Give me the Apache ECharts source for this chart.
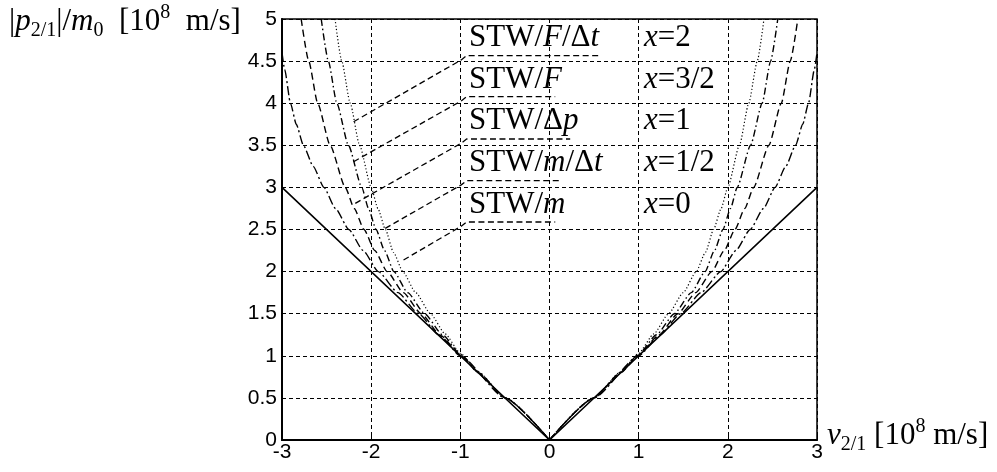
<!DOCTYPE html>
<html><head><meta charset="utf-8">
<script src="https://cdn.jsdelivr.net/npm/echarts@6/dist/echarts.min.js"></script>
<style>html,body{margin:0;padding:0;background:#fff}#c{width:997px;height:472px}</style>
</head><body><div id="c"></div>
<script>
// ---- data ----
const xTickLabels = ['-3','-2','-1','0','1','2','3'];
const yTickLabels = ['0','0.5','1','1.5','2','2.5','3','3.5','4','4.5','5'];

// each curve: left branch, gap ('-'), right branch
// x = 0 : STW/m (solid)
const curveX0 = [[-3,3],[0,0],[3,3]];
// x = 1/2 : STW/m/Δt (dash-dot, outermost)
const curveXHalf = [[-3.0,4.6],[-2.97,4.4],[-2.905,4.0],[-2.84,3.75],[-2.76,3.5],[-2.65,3.25],[-2.53,3.0],[-2.40,2.75],[-2.25,2.5],[-2.09,2.25],[-1.92,2.0],[-1.70,1.75],[-1.47,1.5],[-1.24,1.25],[-1.0,1.0],[-0.5,0.5],[0,0],'-',
                    [0,0],[0.5,0.5],[1.0,1.0],[1.24,1.25],[1.47,1.5],[1.70,1.75],[1.92,2.0],[2.09,2.25],[2.25,2.5],[2.40,2.75],[2.53,3.0],[2.65,3.25],[2.76,3.5],[2.84,3.75],[2.905,4.0],[2.97,4.4],[3.0,4.6]];
// x = 1 : STW/Δp (dashed)
const curveX1 = [[-2.785,5],[-2.70,4.5],[-2.60,4.0],[-2.46,3.5],[-2.29,3.0],[-2.19,2.75],[-2.08,2.5],[-1.96,2.25],[-1.82,2.0],[-1.64,1.75],[-1.44,1.5],[-1.22,1.24],[-1.0,1.01],[-0.8,0.8],[-0.5,0.5],[0,0],'-',
                 [0,0],[0.5,0.5],[0.8,0.8],[1.0,1.01],[1.22,1.24],[1.44,1.5],[1.64,1.75],[1.82,2.0],[1.96,2.25],[2.08,2.5],[2.19,2.75],[2.29,3.0],[2.46,3.5],[2.60,4.0],[2.70,4.5],[2.785,5]];
// x = 3/2 : STW/F (dash-dot)
const curveX3Half = [[-2.56,5],[-2.48,4.5],[-2.385,4.0],[-2.255,3.5],[-2.105,3.0],[-2.03,2.75],[-1.945,2.5],[-1.85,2.25],[-1.745,2.0],[-1.59,1.75],[-1.40,1.5],[-1.20,1.25],[-1.0,1.02],[-0.8,0.805],[-0.5,0.5],[0,0],'-',
                     [0,0],[0.5,0.5],[0.8,0.805],[1.0,1.02],[1.20,1.25],[1.40,1.5],[1.59,1.75],[1.745,2.0],[1.85,2.25],[1.945,2.5],[2.03,2.75],[2.105,3.0],[2.255,3.5],[2.385,4.0],[2.48,4.5],[2.56,5]];
// x = 2 : STW/F/Δt (dotted)
const curveX2 = [[-2.405,5],[-2.33,4.5],[-2.235,4.0],[-2.13,3.5],[-2.0,3.0],[-1.925,2.75],[-1.84,2.5],[-1.75,2.23],[-1.645,2.0],[-1.50,1.75],[-1.335,1.5],[-1.17,1.26],[-1.0,1.03],[-0.8,0.81],[-0.5,0.505],[0,0],'-',
                 [0,0],[0.5,0.505],[0.8,0.81],[1.0,1.03],[1.17,1.26],[1.335,1.5],[1.50,1.75],[1.645,2.0],[1.75,2.23],[1.84,2.5],[1.925,2.75],[2.0,3.0],[2.13,3.5],[2.235,4.0],[2.33,4.5],[2.405,5]];

// annotation leader lines (data coordinates), top label to bottom label
const leaderFDt = [[-2.197,3.780],[-0.99,4.514],[-0.93,4.564],[0.569,4.564]];
const leaderF   = [[-2.197,3.305],[-0.99,4.027],[-0.93,4.077],[0.064,4.077]];
const leaderDp  = [[-2.178,2.811],[-0.99,3.525],[-0.93,3.575],[0.232,3.575]];
const leaderMDt = [[-1.842,2.514],[-0.99,3.030],[-0.93,3.080],[0.120,3.080]];
const leaderM   = [[-1.637,2.138],[-0.99,2.539],[-0.93,2.589],[0.064,2.589]];

const stwLabels = ['STW/{i|F}/Δ{i|t}','STW/{i|F}','STW/Δ{i|p}','STW/{i|m}/Δ{i|t}','STW/{i|m}'];
const xLabels   = ['{i|x}=2','{i|x}=3/2','{i|x}=1','{i|x}=1/2','{i|x}=0'];

// ---- chart ----
const serif = "'Liberation Serif','Times New Roman',serif";
const sans = "'Liberation Sans',Arial,sans-serif";
const chart = echarts.init(document.getElementById('c'), null, {renderer:'canvas'});

function curve(name, data, dash, width, smooth) {
  return {name, type:'line', data, symbol:'none', smooth: smooth ? 0.2 : false,
    smoothMonotone:'x', connectNulls:false, silent:true, animation:false,
    lineStyle:{color:'#000', width, type:dash}};
}
function leader(data) {
  return {type:'line', data, symbol:'none', silent:true, animation:false,
    lineStyle:{color:'#000', width:1.3, type:[6,3.5]}};
}

const LF = 31;
const graphics = [];
const rowY = [38, 79.5, 121, 162.7, 204.5];
stwLabels.forEach((t,k)=>{
  graphics.push({type:'text', x:469, y:rowY[k], silent:true,
    style:{text:t, fontFamily:serif, fontSize:LF, fill:'#000', verticalAlign:'middle', align:'left',
      rich:{i:{fontStyle:'italic', fontFamily:serif, fontSize:LF}}}});
  graphics.push({type:'text', x:644, y:rowY[k], silent:true,
    style:{text:xLabels[k], fontFamily:serif, fontSize:LF, fill:'#000', verticalAlign:'middle', align:'left',
      rich:{i:{fontStyle:'italic', fontFamily:serif, fontSize:LF}}}});
});
const TF = 31, SF = 20;
const titleRich = {
  n:{fontFamily:serif, fontSize:TF, lineHeight:38},
  i:{fontFamily:serif, fontSize:TF, fontStyle:'italic', lineHeight:38},
  sub:{fontFamily:serif, fontSize:SF, lineHeight:SF, verticalAlign:'bottom'},
  sup:{fontFamily:serif, fontSize:SF, lineHeight:SF, verticalAlign:'top'}
};
graphics.push({type:'text', x:9, y:22, silent:true,
  style:{text:'{n||}{i|p}{sub|2/1}{n||/}{i|m}{sub|0}{n|  [10}{sup|8}{n|  m/s]}', fill:'#000', verticalAlign:'middle', align:'left', rich:titleRich}});
graphics.push({type:'text', x:827, y:436, silent:true,
  style:{text:'{i|v}{sub|2/1}{n| [10}{sup|8}{n| m/s]}', fill:'#000', verticalAlign:'middle', align:'left', rich:titleRich}});

chart.setOption({
  animation:false,
  backgroundColor:'#fff',
  grid:{left:282, right:180, top:19, bottom:32, show:true, borderColor:'#000', borderWidth:1.5, backgroundColor:'transparent'},
  xAxis:{type:'value', min:-3, max:3, interval:1,
    axisLine:{show:true, onZero:false, lineStyle:{color:'#000', width:2}},
    axisTick:{show:true, inside:true, length:4, lineStyle:{color:'#000'}},
    axisLabel:{color:'#000', fontFamily:sans, fontSize:21, margin:2, formatter:v=>xTickLabels[Math.round(v+3)]},
    splitLine:{show:true, lineStyle:{color:'#000', width:1, type:[4,3]}}},
  yAxis:{type:'value', min:0, max:5, interval:0.5,
    axisLine:{show:true, onZero:false, lineStyle:{color:'#000', width:2}},
    axisTick:{show:true, inside:true, length:4, lineStyle:{color:'#000'}},
    axisLabel:{color:'#000', fontFamily:sans, fontSize:21, margin:5, formatter:v=>yTickLabels[Math.round(v*2)]},
    splitLine:{show:true, lineStyle:{color:'#000', width:1, type:[4,3]}}},
  series:[
    curve('x=1/2', curveXHalf, [9,3,2,3], 1.4, true),
    curve('x=1', curveX1, [7,4], 1.4, true),
    curve('x=3/2', curveX3Half, [7,3,1.5,3], 1.4, true),
    curve('x=2', curveX2, [1.2,2.2], 1.2, true),
    curve('x=0', curveX0, 'solid', 1.6, false),
    leader(leaderFDt), leader(leaderF), leader(leaderDp), leader(leaderMDt), leader(leaderM)
  ],
  graphic:graphics
});
</script></body></html>
